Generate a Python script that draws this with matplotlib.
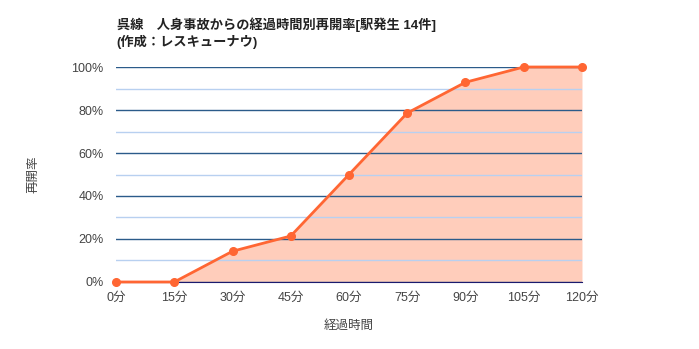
import matplotlib
matplotlib.use('Agg')
import matplotlib.pyplot as plt
from matplotlib.ticker import MultipleLocator, FuncFormatter

plt.rcParams['font.family'] = ['Liberation Sans', 'Noto Sans CJK JP', 'DejaVu Sans']

# Data
minutes = [0, 15, 30, 45, 60, 75, 90, 105, 120]
x_labels = ['0分', '15分', '30分', '45分', '60分', '75分', '90分', '105分', '120分']
rate = [0, 0, 14.3, 21.4, 50.0, 78.6, 92.9, 100, 100]

title = '呉線　人身事故からの経過時間別再開率[駅発生 14件]\n(作成：レスキューナウ)'

fig = plt.figure(figsize=(6.99, 3.49), dpi=100)
ax = fig.add_axes([0.166, 0.192, 0.6666, 0.616])

line_color = '#ff6633'
fill_color = '#ffcdbb'

ax.fill_between(minutes, rate, 0, color=fill_color, zorder=1, linewidth=0)
ax.plot(minutes, rate, color=line_color, linewidth=2, marker='o', markersize=5.5, zorder=4,
        clip_on=False)

ax.set_xlim(0, 120)
ax.set_ylim(0, 100)
ax.set_xticks(minutes)
ax.set_xticklabels(x_labels)
ax.yaxis.set_major_locator(MultipleLocator(20))
ax.yaxis.set_minor_locator(MultipleLocator(10))
ax.yaxis.set_major_formatter(FuncFormatter(lambda v, p: f'{int(v)}%'))

ax.grid(axis='y', which='major', color='#2b5b8a', linewidth=1, zorder=2)
ax.grid(axis='y', which='minor', color='#b8d0f0', linewidth=1, zorder=2)
ax.set_axisbelow(False)
for s in ['top', 'right', 'left']:
    ax.spines[s].set_visible(False)
ax.spines['bottom'].set_color('#1a1a6e')
ax.spines['bottom'].set_zorder(3)

ax.tick_params(axis='both', which='both', length=0, labelsize=9, labelcolor='#444444')
ax.tick_params(axis='y', pad=9)
ax.tick_params(axis='x', pad=7)

ax.set_xlabel('経過時間', fontsize=9, color='#444444', va='center')
ax.set_ylabel('再開率', fontsize=9, color='#444444', va='center')
ax.xaxis.set_label_coords(0.5, -0.205)
ax.yaxis.set_label_coords(-0.178, 0.5)

fig.text(0.167, 0.95, title, fontsize=9.5, fontweight='bold', color='#222222',
         va='top', ha='left', linespacing=1.25)

fig.savefig('out.png', dpi=100)
